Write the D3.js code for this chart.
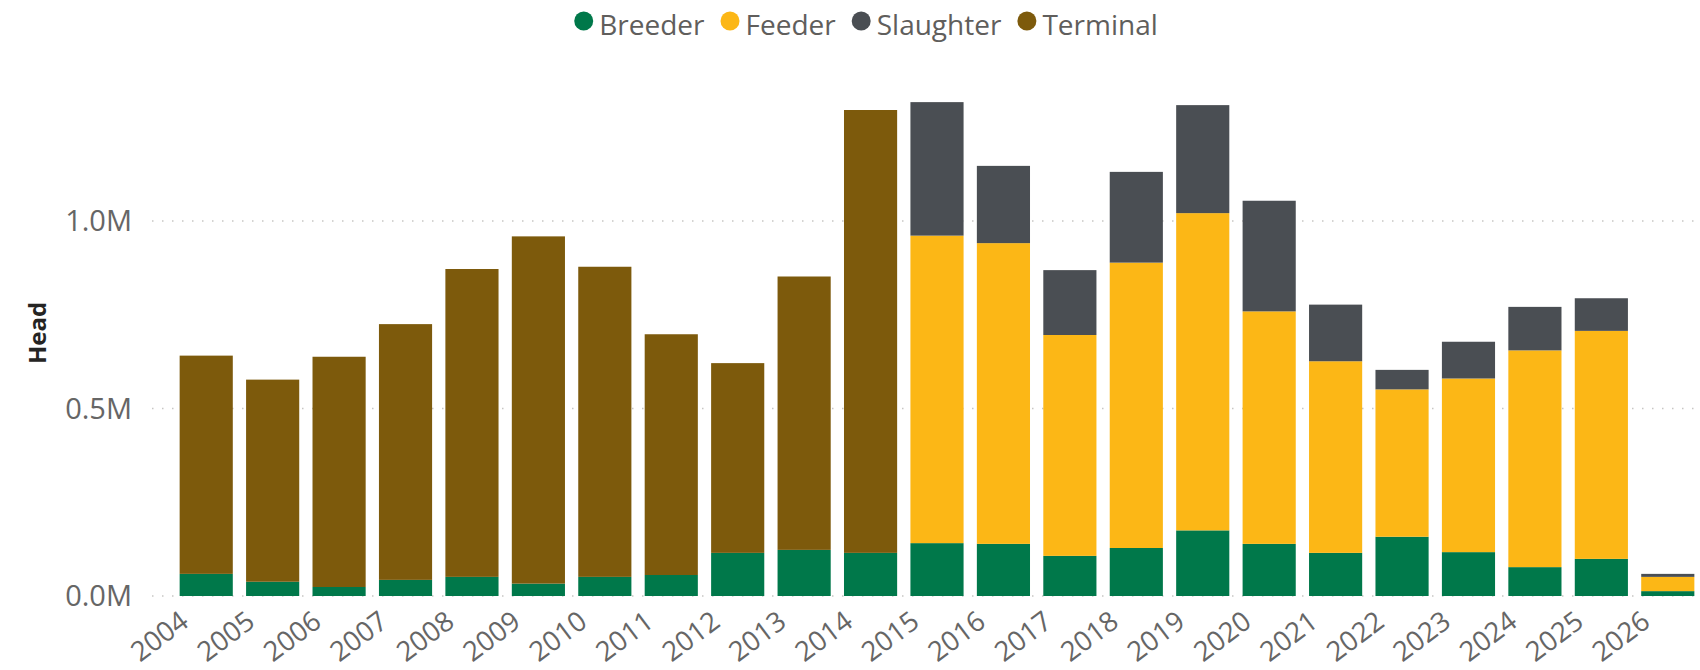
<!DOCTYPE html>
<html>
<head>
<meta charset="utf-8">
<script src="https://cdn.jsdelivr.net/npm/d3@7"></script>
<style>
  html, body { margin: 0; padding: 0; background: #fff; }
  svg { display: block; font-family: "Open Sans", sans-serif; }
</style>
</head>
<body>
<svg id="chart" width="1700" height="670"></svg>
<script>
const years = ["2004","2005","2006","2007","2008","2009","2010","2011","2012","2013","2014","2015","2016","2017","2018","2019","2020","2021","2022","2023","2024","2025","2026"];
const breeder   = [0.059,0.038,0.024,0.043,0.051,0.033,0.051,0.056,0.115,0.123,0.115,0.141,0.139,0.107,0.128,0.175,0.139,0.115,0.158,0.117,0.077,0.099,0.013];
const feeder    = [0,0,0,0,0,0,0,0,0,0,0,0.820,0.802,0.589,0.761,0.846,0.620,0.511,0.393,0.463,0.578,0.608,0.038];
const slaughter = [0,0,0,0,0,0,0,0,0,0,0,0.356,0.206,0.173,0.242,0.288,0.295,0.151,0.052,0.098,0.116,0.087,0.008];
const terminal  = [0.582,0.539,0.614,0.682,0.821,0.926,0.827,0.642,0.506,0.729,1.181,0,0,0,0,0,0,0,0,0,0,0,0];
const seriesNames = ["Breeder","Feeder","Slaughter","Terminal"];
const seriesColors = ["#00784A","#FCB716","#4A4E53","#7D5A0C"];
const yTicks = [0, 0.5e6, 1.0e6];
const yTickLabels = ["0.0M","0.5M","1.0M"];
const yTitle = "Head";

const rows = years.map((y, i) => ({
  year: y,
  Breeder: breeder[i] * 1e6,
  Feeder: feeder[i] * 1e6,
  Slaughter: slaughter[i] * 1e6,
  Terminal: terminal[i] * 1e6
}));

const svg = d3.select("#chart");
const x = d3.scaleBand().domain(years).range([173, 1701]).paddingInner(0.2).paddingOuter(0.1);
const y = d3.scaleLinear().domain([0, 1.4e6]).range([596, 71]);
const color = d3.scaleOrdinal().domain(seriesNames).range(seriesColors);

// gridlines
svg.append("g").selectAll("line").data(yTicks).join("line")
  .attr("x1", 152).attr("x2", 1700)
  .attr("y1", d => y(d)).attr("y2", d => y(d))
  .attr("stroke", "#C8C6C4").attr("stroke-width", 1.5)
  .attr("stroke-dasharray", "1.5,8.5");

// y labels
svg.append("g").selectAll("text").data(yTicks).join("text")
  .attr("x", 132).attr("y", d => y(d))
  .attr("dy", "0.35em")
  .attr("text-anchor", "end")
  .attr("font-size", 29)
  .attr("fill", "#666666")
  .text((d, i) => yTickLabels[i]);

// y title
svg.append("text")
  .attr("transform", "translate(46,333) rotate(-90)")
  .attr("text-anchor", "middle")
  .attr("font-size", 24)
  .attr("font-weight", "bold")
  .attr("fill", "#252423")
  .text(yTitle);

// bars
const stack = d3.stack().keys(seriesNames);
const stacked = stack(rows);
svg.append("g").selectAll("g").data(stacked).join("g")
  .attr("fill", d => color(d.key))
  .selectAll("rect").data(d => d.filter(p => p[1] - p[0] > 0)).join("rect")
  .attr("x", d => x(d.data.year))
  .attr("width", x.bandwidth())
  .attr("y", d => y(d[1]))
  .attr("height", d => y(d[0]) - y(d[1]));

// x labels
svg.append("g").selectAll("text").data(years).join("text")
  .attr("transform", d => `translate(${x(d) + x.bandwidth() / 2 - 16},${625}) rotate(-37)`)
  .attr("text-anchor", "end")
  .attr("font-size", 27.5)
  .attr("fill", "#666666")
  .text(d => d);

// legend
const legend = svg.append("g");
let cx = 0;
const items = legend.selectAll("g").data(seriesNames).join("g");
items.append("circle").attr("r", 9.5).attr("cy", 21).attr("fill", d => color(d));
items.append("text").attr("x", 15.5).attr("y", 34.5).attr("font-size", 28).attr("fill", "#605E5C").text(d => d);
items.each(function(d) {
  const g = d3.select(this);
  g.attr("transform", `translate(${cx},0)`);
  const w = g.select("text").node().getComputedTextLength();
  cx += 9.5 + 15.5 + w + 16;
});
const totalW = cx - 16;
legend.attr("transform", `translate(${866 - totalW / 2 + 9.5},0)`);
</script>
</body>
</html>
